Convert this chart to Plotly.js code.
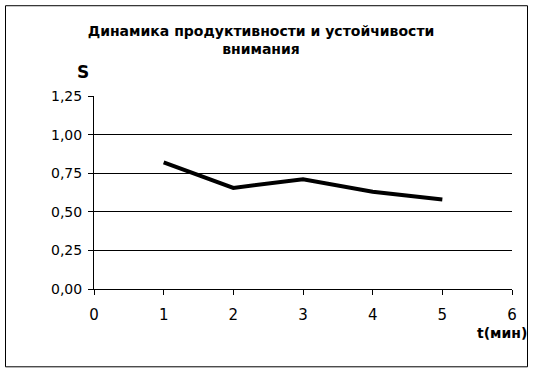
<!DOCTYPE html>
<html><head><meta charset="utf-8">
<script src="https://cdn.plot.ly/plotly-3.0.1.min.js"></script>
<style>html,body{margin:0;padding:0;background:#fff}#c{width:534px;height:373px}</style>
</head><body><div id="c"></div>
<script>
const timeMin = [1, 2, 3, 4, 5];
const sValues = [0.82, 0.655, 0.71, 0.63, 0.58];
const yTicks = [0, 0.25, 0.5, 0.75, 1.0, 1.25];
const xTicks = [0, 1, 2, 3, 4, 5, 6];
const titleText = 'Динамика продуктивности и устойчивости<br>внимания';

const W = 534, H = 373;
const mL = 94, mR = 22, mT = 96, mB = 83.5;
const pw = W - mL - mR, ph = H - mT - mB;
const px = v => (v - mL) / pw;
const py = v => (H - mB - v) / ph;

const trace = {
  x: timeMin, y: sValues, type: 'scatter', mode: 'lines',
  line: {color: '#000', width: 4}, showlegend: false, hoverinfo: 'skip'
};
const layout = {
  width: W, height: H,
  margin: {l: mL, r: mR, t: mT, b: mB, pad: 0},
  paper_bgcolor: '#fff', plot_bgcolor: '#fff',
  separators: ', ',
  font: {family: 'DejaVu Sans', size: 14, color: '#000'},
  title: {text: titleText, font: {family: 'DejaVu Sans', size: 14, weight: 'bold', color: '#000', lineposition: 'none'},
          x: 261 / W, xref: 'container', xanchor: 'center', y: 1 - 36/H, yref: 'container', yanchor: 'middle'},
  xaxis: {range: [0, 6], tickvals: xTicks, showgrid: false, zeroline: false,
          showline: true, linecolor: '#000', linewidth: 1, ticks: 'outside', ticklen: 5,
          tickcolor: '#000', tickfont: {family: 'DejaVu Sans', size: 15}, ticklabelstandoff: 7, fixedrange: true},
  yaxis: {range: [0, 1.25], tickvals: yTicks, tickformat: '.2f', showgrid: true,
          gridcolor: '#000', gridwidth: 1, zeroline: false, showline: true, linecolor: '#000',
          linewidth: 1, ticks: 'outside', ticklen: 5, tickcolor: '#000', tickfont: {family: 'DejaVu Sans', size: 14},
          ticklabelstandoff: 3, fixedrange: true},
  shapes: [
    {type: 'rect', xref: 'paper', yref: 'paper', x0: px(5.5), x1: px(527.5), y0: py(5.5), y1: py(367.5),
     line: {color: '#000', width: 1}, fillcolor: 'rgba(0,0,0,0)', layer: 'below'},
    {type: 'line', xref: 'paper', yref: 'y', x0: 0, x1: 1, y0: 1.25, y1: 1.25,
     line: {color: '#fff', width: 2}, layer: 'below'}
  ],
  annotations: [
    {text: '<b>S</b>', xref: 'paper', yref: 'paper', x: px(83), y: py(72), xanchor: 'center', yanchor: 'middle',
     showarrow: false, font: {size: 17, color: '#000'}},
    {text: '<b>t(мин)</b>', xref: 'paper', yref: 'paper', x: px(529), y: py(334), xanchor: 'right', yanchor: 'middle',
     showarrow: false, font: {size: 14, color: '#000'}}
  ]
};
Plotly.newPlot('c', [trace], layout, {displayModeBar: false, staticPlot: true});
</script></body></html>
